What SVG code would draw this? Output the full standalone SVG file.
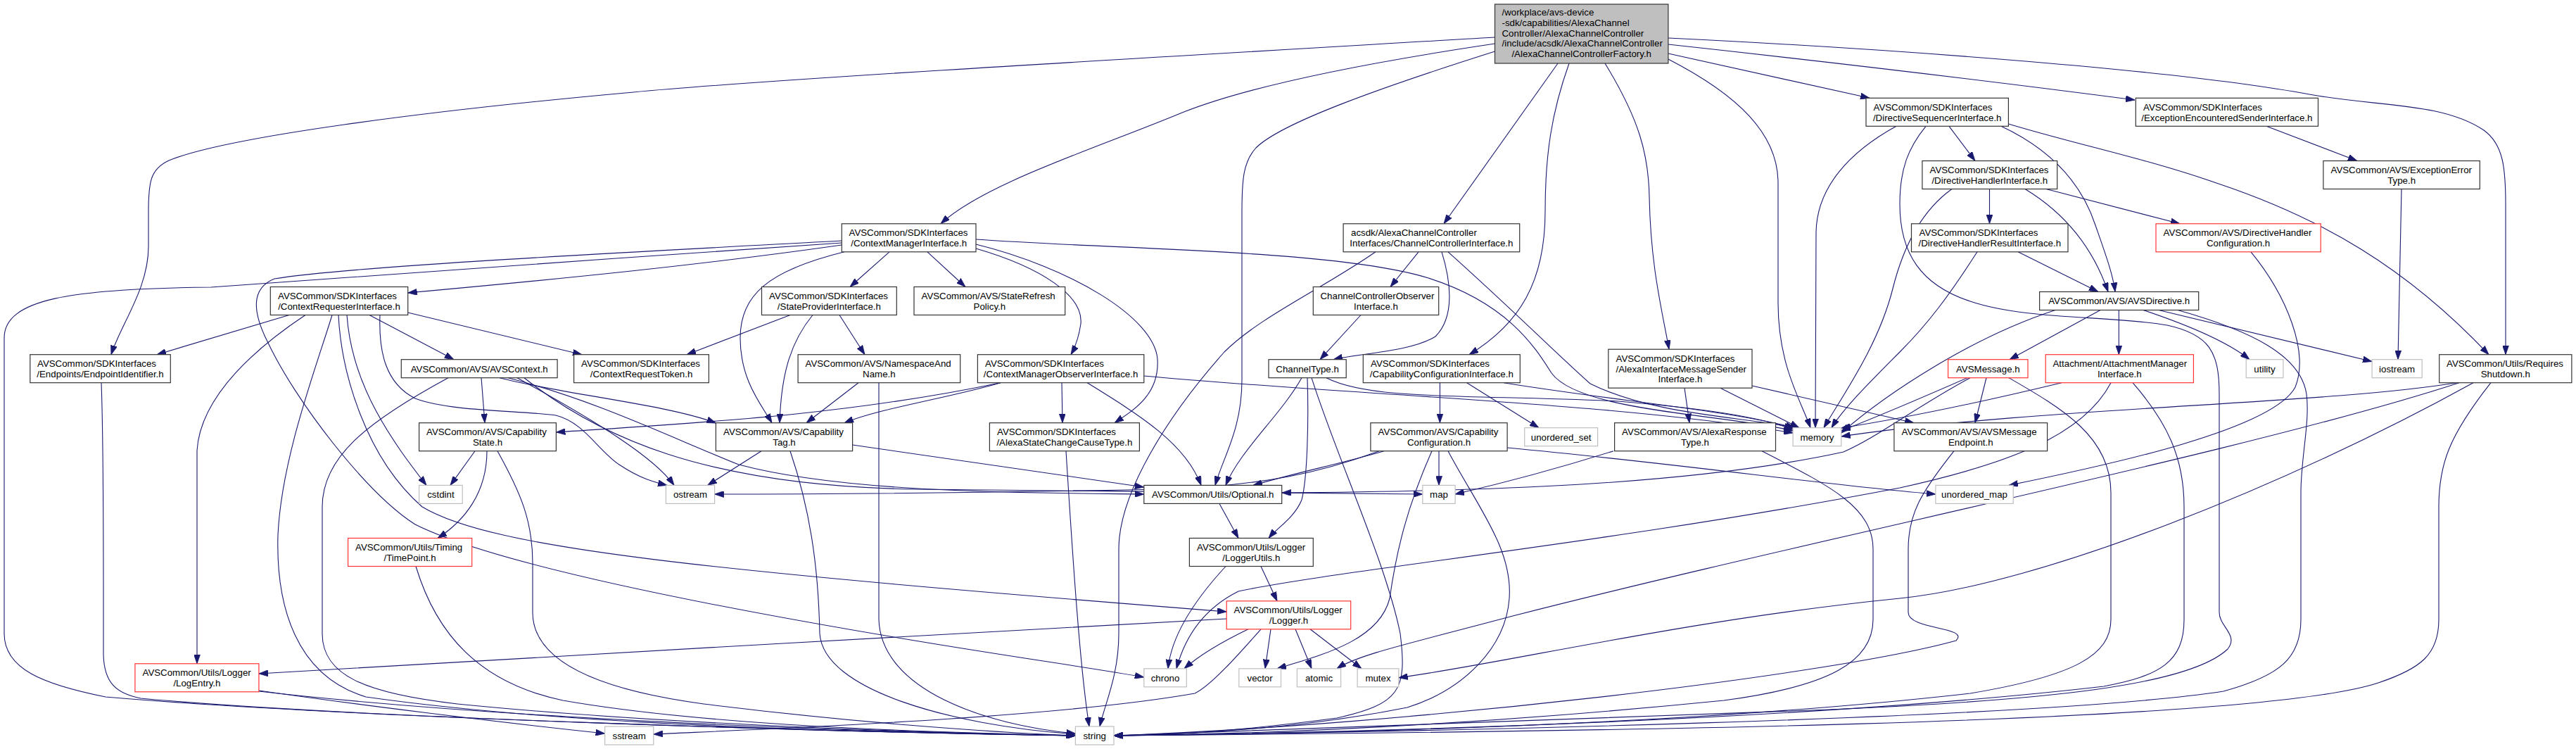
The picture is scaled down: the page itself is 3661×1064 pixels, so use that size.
<svg xmlns="http://www.w3.org/2000/svg" width="3661" height="1064" viewBox="0 0 3661 1064">
<defs>
<marker id="ah" markerWidth="13" markerHeight="9" refX="13" refY="4.5" orient="auto" markerUnits="userSpaceOnUse"><path d="M0,0 L13,4.5 L0,9 Z" fill="#191970" stroke="#191970" stroke-width="0.8"/></marker>
</defs>
<style>
.e path{fill:none;stroke:#191970;stroke-width:1.1;marker-end:url(#ah)}
.node rect{fill:#fff;stroke:#333;stroke-width:1.2}
.node.red rect{stroke:#f33}
.node.sys rect{stroke:#bfbfbf}
.node.root rect{fill:#bfbfbf}
text{font-family:"Liberation Sans",Arial,Helvetica,sans-serif;font-size:13.3px;fill:#000}
.c{text-anchor:middle}
</style>
<rect width="3661" height="1064" fill="#fff"/>
<g id="edges" class="e">
<path d="M2124.5,53 C1700,78 1100,112 900,131 C600,158 320,195 240,228 C214,240 211,258 211,300 L211,350 C211,410 172,460 158,503.7"/>
<path d="M2124.5,62 C1950,88 1780,120 1680,160 C1560,210 1400,260 1337,317.8"/>
<path d="M2124.5,73 C1960,125 1820,175 1785,210 C1767,230 1765,255 1765,300 L1765,540 C1765,610 1738,650 1727,689.4"/>
<path d="M2214,90 L2052,317.8"/>
<path d="M2230,90 C2205,160 2196,220 2196,300 C2196,400 2160,460 2088,503.7"/>
<path d="M2281,90 C2330,170 2343,220 2344,280 C2346,380 2362,440 2372,496.2"/>
<path d="M2370.9,84 C2470,135 2527,190 2527,260 L2527,430 C2527,520 2560,570 2573,607.7"/>
<path d="M2370.9,76 L2657,139.3"/>
<path d="M2370.9,63 C2600,88 2850,118 3034,142"/>
<path d="M2370.9,54 C2700,70 3100,100 3282,134 C3380,152 3470,145 3530,185 C3558,205 3561,240 3561,290 L3561,503.7"/>
<path d="M2770,179.3 L2807,228.5"/>
<path d="M2844,179.3 C2920,215 2960,265 2978,320 C2992,360 3003,390 3006,414.5"/>
<path d="M2695,179.3 C2630,215 2582,265 2581,330 L2580,607.7"/>
<path d="M2737,179.3 C2712,210 2700,240 2700,290 C2700,360 2730,405 2800,428 C2880,455 3000,448 3080,462 C3140,475 3154,500 3154,560 L3154,870 C3154,890 3182,902 3166,922 C3110,975 2900,995 2600,1008 C2200,1025 1800,1040 1583,1045"/>
<path d="M2854.4,176 C2950,205 3050,225 3150,260 C3300,310 3420,380 3537,503.7"/>
<path d="M3221,179.3 L3350,228.5"/>
<path d="M2827.5,268.5 L2827.5,317.8"/>
<path d="M2878,268.5 C2930,300 2972,345 2996,414.5"/>
<path d="M2908,268.5 L3098,317.8"/>
<path d="M2774,268.5 C2730,300 2705,350 2690,410 C2670,490 2620,560 2592,607.7"/>
<path d="M2868,357.8 L2982,414.5"/>
<path d="M2810,357.8 C2770,420 2740,460 2700,500 C2660,540 2620,580 2603,607.7"/>
<path d="M3199,357.8 C3250,420 3282,500 3262,550 C3230,610 3000,660 2855,689.4"/>
<path d="M3413,268.5 L3408,510.7"/>
<path d="M2985,440.5 L2856,510.7"/>
<path d="M3011.3,440.5 L3011.3,503.7"/>
<path d="M3046,440.5 C3110,462 3165,485 3197,510.7"/>
<path d="M3068,440.5 L3371,513.5"/>
<path d="M2921,440.5 C2800,480 2680,560 2616.8,615"/>
<path d="M3095,440.5 C3200,470 3270,505 3278,560 C3283,600 3270,650 3270,700 L3270,880 C3270,935 3240,960 3160,982 C2900,1022 2000,1040 1583,1045"/>
<path d="M1196.3,348 C1000,376 800,396 579.7,416"/>
<path d="M1196.3,342 C900,358 500,378 390,396 C355,410 360,445 380,485 C420,570 520,700 590,745 C700,800 1000,860 1300,910 C1450,935 1560,950 1625.8,962"/>
<path d="M1196.3,345 C900,365 550,390 300,408 C100,410 6,425 6,480 L6,900 C6,950 60,972 150,990 C500,1020 1200,1040 1528.4,1045"/>
<path d="M1200,357.8 C1090,385 1052,420 1052,480 C1052,540 1082,575 1097,600.7"/>
<path d="M1264,357.8 L1208,407.5"/>
<path d="M1318,357.8 L1372,407.5"/>
<path d="M1387,353 C1480,380 1540,420 1536,460 C1533,480 1527,495 1522,503.7"/>
<path d="M1387,347 C1520,380 1640,450 1645,510 C1648,560 1612,582 1584,600.7"/>
<path d="M1387,340 C1600,355 1900,355 2030,395 C2140,430 2180,490 2205,530 C2245,585 2450,588 2548.1,612"/>
<path d="M411,447.5 L223,503.7"/>
<path d="M434,447.5 C370,490 285,560 280,640 L280,942.8"/>
<path d="M472,447.5 C450,520 400,650 395,760 C392,860 420,960 520,990 C800,1030 1200,1040 1528.4,1045"/>
<path d="M481,447.5 C485,530 520,650 600,720 C700,780 1000,810 1743.2,869"/>
<path d="M493,447.5 C500,550 560,630 606,689.4"/>
<path d="M525,447.5 L645,510.7"/>
<path d="M579.7,444 L827,503.7"/>
<path d="M540,447.5 C538,500 548,545 590,566 C640,585 740,583 790,590 C830,600 850,640 880,660 C910,680 930,685 948,689.4"/>
<path d="M684,536.7 L689,600.7"/>
<path d="M637,536.7 C520,600 458,650 458,720 L458,900 C458,960 520,985 650,1000 C900,1025 1250,1040 1528.4,1045"/>
<path d="M710,536.7 C800,560 950,575 1017.4,601"/>
<path d="M722,536.7 C850,570 950,620 1050,660 C1200,700 1450,700 1625.8,702"/>
<path d="M735,536.7 C850,600 930,650 958,689.4"/>
<path d="M745,536.7 C850,620 1000,690 1300,695 C1600,700 1850,700 2021.8,702"/>
<path d="M144,543.7 C146,600 147,700 147,850 L147,930 C148,970 165,985 200,992 C500,1020 1200,1040 1528.4,1045"/>
<path d="M1220,543.7 L1146,600.7"/>
<path d="M1249,543.7 L1249,880 C1252,980 1400,1030 1528.4,1042"/>
<path d="M1123,447.5 L976,503.7"/>
<path d="M1155,447.5 C1120,490 1110,540 1108,600.7"/>
<path d="M1193,447.5 L1229,503.7"/>
<path d="M1422,543.7 C1350,565 1250,580 1200,600.7"/>
<path d="M1422,543.7 C1200,590 1000,600 790.4,614"/>
<path d="M1509,543.7 L1510,600.7"/>
<path d="M1545,543.7 C1620,590 1685,630 1707,689.4"/>
<path d="M1625.8,534 C1900,560 2300,572 2548.1,615"/>
<path d="M1515,640.7 C1525,800 1535,950 1548,1032"/>
<path d="M1082,640.7 L1005.6,689.4"/>
<path d="M1123,640.7 C1150,720 1163,800 1165,900 C1170,980 1350,1030 1528.4,1043"/>
<path d="M1211.6,632 C1400,660 1550,682 1625.8,692"/>
<path d="M675,640.7 L640,689.4"/>
<path d="M692,640.7 C692,700 660,740 622,764.5"/>
<path d="M707,640.7 C740,700 757,740 757,800 L757,870 C757,940 850,980 1000,1000 C1200,1025 1400,1040 1528.4,1045"/>
<path d="M591,804.5 C620,900 680,970 800,995 C1000,1030 1300,1040 1528.4,1045"/>
<path d="M367.9,981 C500,1000 700,1025 859.6,1042"/>
<path d="M367.9,982 C700,1020 1200,1040 1528.4,1045"/>
<path d="M2046.4,543.7 L2046.4,600.7"/>
<path d="M2084.6,543.7 L2187,607.7"/>
<path d="M2137,543.7 C2300,570 2450,582 2551,607.7"/>
<path d="M2016,357.8 L1976,407.5"/>
<path d="M2049,357.8 C2062,400 2068,450 2040,478 C2005,500 1930,502 1895,510.7"/>
<path d="M2058,357.8 C2150,440 2220,510 2260,545 C2350,590 2480,592 2551,607.7"/>
<path d="M1955,357.8 C1880,410 1790,450 1740,500 C1660,590 1590,700 1590,780 L1590,900 C1590,960 1570,1000 1563,1032"/>
<path d="M1934,447.5 L1876,510.7"/>
<path d="M1850,536.7 C1820,590 1762,640 1742,689.4"/>
<path d="M1858,536.7 C1860,600 1858,680 1850,710 C1840,735 1815,750 1803,764.5"/>
<path d="M1864,536.7 C1900,650 1970,800 1990,900 C2000,980 1990,1000 1900,1020 C1750,1040 1650,1045 1583,1045"/>
<path d="M1885,536.7 C1950,570 2100,560 2300,570 C2420,580 2500,592 2548.1,610"/>
<path d="M1733,715.4 L1760,764.5"/>
<path d="M1792,804.5 L1815,853.8"/>
<path d="M1742,804.5 C1700,850 1665,900 1660,949.8"/>
<path d="M1743.2,879 C1300,900 800,935 367.9,957"/>
<path d="M1774,893.8 C1730,915 1700,935 1683,949.8"/>
<path d="M1806,893.8 L1798,949.8"/>
<path d="M1841,893.8 L1864,949.8"/>
<path d="M1862,893.8 L1935,949.8"/>
<path d="M1792,893.8 C1760,930 1720,975 1698,985 C1500,1020 1100,1035 928.8,1043"/>
<path d="M1960,640.7 C1880,670 1800,690 1650,695 C1400,700 1200,702 1015.6,702"/>
<path d="M1967,640.7 C1900,660 1840,672 1781,689.4"/>
<path d="M2045,640.7 L2045,689.4"/>
<path d="M2035,640.7 C2000,720 1985,780 1975,850 C1960,910 1880,930 1815,949.8"/>
<path d="M2058,640.7 C2100,720 2150,780 2145,850 C2140,920 2080,980 2000,1005 C1850,1035 1700,1043 1583,1045"/>
<path d="M2142,636 C2400,660 2600,690 2750.9,702"/>
<path d="M2394,551.2 L2401,600.7"/>
<path d="M2445,551.2 L2557,607.7"/>
<path d="M2490,548 L2720,600.7"/>
<path d="M2293,640.7 C2200,670 2120,690 2068,702"/>
<path d="M2504,640.7 C2600,690 2662,720 2662,780 L2662,880 C2662,940 2600,975 2450,995 C2100,1030 1800,1043 1583,1045"/>
<path d="M2796,536.7 C2720,570 2660,595 2616.8,612"/>
<path d="M2800,536.7 C2720,580 2670,620 2620,642 C2400,690 2100,698 1821.7,700"/>
<path d="M2823,536.7 L2807,600.7"/>
<path d="M2855,536.7 C2930,580 3000,620 3000,700 L3000,880 C3000,930 2950,960 2800,985 C2400,1030 1900,1042 1583,1045"/>
<path d="M2777,640.7 C2730,700 2712,730 2712,780 L2712,870 C2712,895 2800,890 2780,910 C2600,960 2000,1030 1583,1045"/>
<path d="M2930,543.7 C2800,575 2700,595 2616.8,608"/>
<path d="M3000,543.7 C2960,620 2850,660 2700,693 C2300,770 1900,810 1760,840 C1700,870 1680,920 1672,949.8"/>
<path d="M3031,543.7 C3080,600 3104,650 3104,720 L3104,880 C3104,940 3070,960 2990,975 C2600,1020 2000,1040 1583,1045"/>
<path d="M3491,543.7 C3300,575 2900,578 2616.8,620"/>
<path d="M3495,543.7 C3200,640 2600,760 2150,875 C2000,915 1930,930 1900,949.8"/>
<path d="M3515,543.7 C3250,690 2900,830 2700,850 C2400,880 2150,940 1987.8,962.8"/>
<path d="M3540,543.7 C3480,620 3466,660 3466,720 L3466,880 C3466,930 3440,950 3380,970 C3200,1030 2200,1040 1583,1045"/>
</g>
<g id="n_root" class="node root"><rect x="2124.5" y="6" width="246.4" height="84"/><text x="2134.5" y="22">/workplace/avs-device</text><text x="2134.5" y="36.8">-sdk/capabilities/AlexaChannel</text><text x="2134.5" y="51.6">Controller/AlexaChannelController</text><text x="2134.5" y="66.4">/include/acsdk/AlexaChannelController</text><text class="c" x="2247.7" y="81.2">/AlexaChannelControllerFactory.h</text></g>
<g id="n_dirseq" class="node"><rect x="2652" y="139.3" width="202.4" height="40"/><text x="2662.5" y="156.7">AVSCommon/SDKInterfaces</text><text class="c" x="2753.2" y="171.5">/DirectiveSequencerInterface.h</text></g>
<g id="n_excenc" class="node"><rect x="3035.3" y="139.3" width="259.2" height="40"/><text x="3046" y="156.7">AVSCommon/SDKInterfaces</text><text class="c" x="3164.9" y="171.5">/ExceptionEncounteredSenderInterface.h</text></g>
<g id="n_dhi" class="node"><rect x="2731.9" y="228.5" width="191.8" height="40"/><text x="2742.5" y="245.9">AVSCommon/SDKInterfaces</text><text class="c" x="2827.8" y="260.7">/DirectiveHandlerInterface.h</text></g>
<g id="n_excerr" class="node"><rect x="3301.9" y="228.5" width="222.4" height="40"/><text x="3312.5" y="245.9">AVSCommon/AVS/ExceptionError</text><text class="c" x="3413.1" y="260.7">Type.h</text></g>
<g id="n_cmi" class="node"><rect x="1196.3" y="317.8" width="190.7" height="40"/><text x="1206.5" y="335.2">AVSCommon/SDKInterfaces</text><text class="c" x="1291.7" y="350">/ContextManagerInterface.h</text></g>
<g id="n_cci" class="node"><rect x="1909.1" y="317.8" width="250.6" height="40"/><text x="1920" y="335.2">acsdk/AlexaChannelController</text><text class="c" x="2034.4" y="350">Interfaces/ChannelControllerInterface.h</text></g>
<g id="n_dhri" class="node"><rect x="2716.5" y="317.8" width="222.5" height="40"/><text x="2727.5" y="335.2">AVSCommon/SDKInterfaces</text><text class="c" x="2827.8" y="350">/DirectiveHandlerResultInterface.h</text></g>
<g id="n_dhc" class="node red"><rect x="3064" y="317.8" width="234.2" height="40"/><text x="3074.5" y="335.2">AVSCommon/AVS/DirectiveHandler</text><text class="c" x="3181.1" y="350">Configuration.h</text></g>
<g id="n_cri" class="node"><rect x="384.3" y="407.5" width="195.4" height="40"/><text x="395" y="424.9">AVSCommon/SDKInterfaces</text><text class="c" x="482" y="439.7">/ContextRequesterInterface.h</text></g>
<g id="n_spi" class="node"><rect x="1082.5" y="407.5" width="191.8" height="40"/><text x="1093" y="424.9">AVSCommon/SDKInterfaces</text><text class="c" x="1178.4" y="439.7">/StateProviderInterface.h</text></g>
<g id="n_srp" class="node"><rect x="1299" y="407.5" width="214.7" height="40"/><text x="1309.5" y="424.9">AVSCommon/AVS/StateRefresh</text><text class="c" x="1406.4" y="439.7">Policy.h</text></g>
<g id="n_ccoi" class="node"><rect x="1866.3" y="407.5" width="178.4" height="40"/><text x="1876.5" y="424.9">ChannelControllerObserver</text><text class="c" x="1955.5" y="439.7">Interface.h</text></g>
<g id="n_avsdir" class="node"><rect x="2898.6" y="414.5" width="226.1" height="26"/><text class="c" x="3011.7" y="432.3">AVSCommon/AVS/AVSDirective.h</text></g>
<g id="n_epi" class="node"><rect x="42.8" y="503.7" width="199.5" height="40"/><text x="53" y="521.1">AVSCommon/SDKInterfaces</text><text class="c" x="142.5" y="535.9">/Endpoints/EndpointIdentifier.h</text></g>
<g id="n_avsctx" class="node"><rect x="570.3" y="510.7" width="221.8" height="26"/><text class="c" x="681.2" y="528.5">AVSCommon/AVS/AVSContext.h</text></g>
<g id="n_crt" class="node"><rect x="815.6" y="503.7" width="191.8" height="40"/><text x="826" y="521.1">AVSCommon/SDKInterfaces</text><text class="c" x="911.5" y="535.9">/ContextRequestToken.h</text></g>
<g id="n_nsn" class="node"><rect x="1134.1" y="503.7" width="230.6" height="40"/><text x="1144.5" y="521.1">AVSCommon/AVS/NamespaceAnd</text><text class="c" x="1249.4" y="535.9">Name.h</text></g>
<g id="n_cmoi" class="node"><rect x="1389.4" y="503.7" width="236.4" height="40"/><text x="1400" y="521.1">AVSCommon/SDKInterfaces</text><text class="c" x="1507.6" y="535.9">/ContextManagerObserverInterface.h</text></g>
<g id="n_ct" class="node"><rect x="1803" y="510.7" width="110.2" height="26"/><text class="c" x="1858.1" y="528.5">ChannelType.h</text></g>
<g id="n_ccfgi" class="node"><rect x="1937.3" y="503.7" width="223" height="40"/><text x="1948" y="521.1">AVSCommon/SDKInterfaces</text><text class="c" x="2048.8" y="535.9">/CapabilityConfigurationInterface.h</text></g>
<g id="n_aims" class="node"><rect x="2285.8" y="496.2" width="204.2" height="55"/><text x="2296.5" y="513.7">AVSCommon/SDKInterfaces</text><text x="2296.5" y="528.5">/AlexaInterfaceMessageSender</text><text class="c" x="2387.9" y="543.3">Interface.h</text></g>
<g id="n_avsmsg" class="node red"><rect x="2768.6" y="510.7" width="113.4" height="26"/><text class="c" x="2825.3" y="528.5">AVSMessage.h</text></g>
<g id="n_ami" class="node red"><rect x="2907.2" y="503.7" width="210.2" height="40"/><text x="2917.5" y="521.1">Attachment/AttachmentManager</text><text class="c" x="3012.3" y="535.9">Interface.h</text></g>
<g id="n_utility" class="node sys"><rect x="3192.2" y="510.7" width="52.7" height="26"/><text class="c" x="3218.5" y="528.5">utility</text></g>
<g id="n_iostream" class="node sys"><rect x="3371.1" y="510.7" width="71.1" height="26"/><text class="c" x="3406.6" y="528.5">iostream</text></g>
<g id="n_rs" class="node"><rect x="3466.7" y="503.7" width="188.2" height="40"/><text x="3477" y="521.1">AVSCommon/Utils/Requires</text><text class="c" x="3560.8" y="535.9">Shutdown.h</text></g>
<g id="n_capstate" class="node"><rect x="595.6" y="600.7" width="194.8" height="40"/><text x="606" y="618.1">AVSCommon/AVS/Capability</text><text class="c" x="693" y="632.9">State.h</text></g>
<g id="n_captag" class="node"><rect x="1017.4" y="600.7" width="194.2" height="40"/><text x="1028" y="618.1">AVSCommon/AVS/Capability</text><text class="c" x="1114.5" y="632.9">Tag.h</text></g>
<g id="n_ascct" class="node"><rect x="1406.4" y="600.7" width="213" height="40"/><text x="1417" y="618.1">AVSCommon/SDKInterfaces</text><text class="c" x="1512.9" y="632.9">/AlexaStateChangeCauseType.h</text></g>
<g id="n_capcfg" class="node"><rect x="1947.9" y="600.7" width="194.2" height="40"/><text x="1958.5" y="618.1">AVSCommon/AVS/Capability</text><text class="c" x="2045" y="632.9">Configuration.h</text></g>
<g id="n_uset" class="node sys"><rect x="2166.7" y="607.7" width="103.9" height="26"/><text class="c" x="2218.7" y="625.5">unordered_set</text></g>
<g id="n_art" class="node"><rect x="2294.6" y="600.7" width="228.9" height="40"/><text x="2305" y="618.1">AVSCommon/AVS/AlexaResponse</text><text class="c" x="2409" y="632.9">Type.h</text></g>
<g id="n_memory" class="node sys"><rect x="2548.1" y="607.7" width="68.7" height="26"/><text class="c" x="2582.5" y="625.5">memory</text></g>
<g id="n_avsme" class="node"><rect x="2691.9" y="600.7" width="217.7" height="40"/><text x="2702.5" y="618.1">AVSCommon/AVS/AVSMessage</text><text class="c" x="2800.8" y="632.9">Endpoint.h</text></g>
<g id="n_cstdint" class="node sys"><rect x="595.6" y="689.4" width="61.6" height="26"/><text class="c" x="626.4" y="707.2">cstdint</text></g>
<g id="n_ostream" class="node sys"><rect x="946.4" y="689.4" width="69.2" height="26"/><text class="c" x="981" y="707.2">ostream</text></g>
<g id="n_optional" class="node"><rect x="1625.8" y="689.4" width="195.9" height="26"/><text class="c" x="1723.8" y="707.2">AVSCommon/Utils/Optional.h</text></g>
<g id="n_map" class="node sys"><rect x="2021.8" y="689.4" width="46.3" height="26"/><text class="c" x="2045" y="707.2">map</text></g>
<g id="n_umap" class="node sys"><rect x="2750.9" y="689.4" width="110.3" height="26"/><text class="c" x="2806" y="707.2">unordered_map</text></g>
<g id="n_timepoint" class="node red"><rect x="494.6" y="764.5" width="176.1" height="40"/><text x="505" y="781.9">AVSCommon/Utils/Timing</text><text class="c" x="582.6" y="796.7">/TimePoint.h</text></g>
<g id="n_loggerutils" class="node"><rect x="1690.4" y="764.5" width="175.9" height="40"/><text x="1701" y="781.9">AVSCommon/Utils/Logger</text><text class="c" x="1778.3" y="796.7">/LoggerUtils.h</text></g>
<g id="n_logger" class="node red"><rect x="1743.2" y="853.8" width="176.5" height="40"/><text x="1753.5" y="871.2">AVSCommon/Utils/Logger</text><text class="c" x="1831.5" y="886">/Logger.h</text></g>
<g id="n_logentry" class="node red"><rect x="191.9" y="942.8" width="176" height="40"/><text x="202.5" y="960.2">AVSCommon/Utils/Logger</text><text class="c" x="279.9" y="975">/LogEntry.h</text></g>
<g id="n_chrono" class="node sys"><rect x="1625.8" y="949.8" width="60.5" height="26"/><text class="c" x="1656" y="967.6">chrono</text></g>
<g id="n_vector" class="node sys"><rect x="1760.8" y="949.8" width="59.7" height="26"/><text class="c" x="1790.6" y="967.6">vector</text></g>
<g id="n_atomic" class="node sys"><rect x="1843.4" y="949.8" width="62.2" height="26"/><text class="c" x="1874.5" y="967.6">atomic</text></g>
<g id="n_mutex" class="node sys"><rect x="1929.1" y="949.8" width="58.7" height="26"/><text class="c" x="1958.5" y="967.6">mutex</text></g>
<g id="n_sstream" class="node sys"><rect x="859.6" y="1032" width="69.2" height="26"/><text class="c" x="894.2" y="1049.8">sstream</text></g>
<g id="n_string" class="node sys"><rect x="1528.4" y="1032" width="54.6" height="26"/><text class="c" x="1555.7" y="1049.8">string</text></g>
</svg>
